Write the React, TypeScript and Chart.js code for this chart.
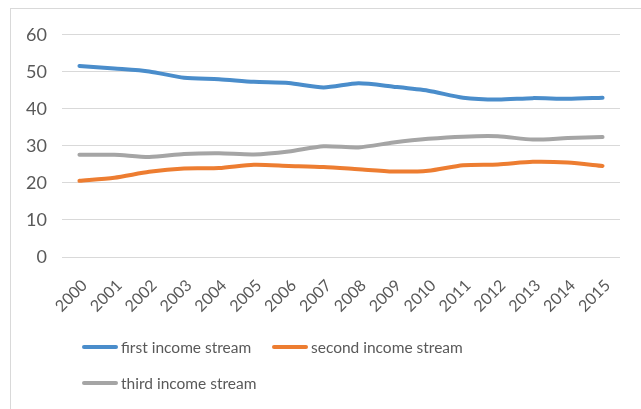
import React, { useEffect, useRef } from "react";
import { Chart, registerables } from "chart.js";

Chart.register(...registerables);

const years = ["2000","2001","2002","2003","2004","2005","2006","2007","2008","2009","2010","2011","2012","2013","2014","2015"];
const firstStream = [51.6, 50.9, 50.1, 48.4, 48.0, 47.3, 47.0, 45.8, 46.9, 46.0, 44.9, 43.0, 42.5, 42.9, 42.7, 43.0];
const secondStream = [20.6, 21.4, 23.0, 23.9, 24.0, 24.9, 24.6, 24.3, 23.7, 23.1, 23.3, 24.8, 25.0, 25.7, 25.5, 24.6];
const thirdStream = [27.6, 27.6, 27.0, 27.8, 28.0, 27.7, 28.5, 29.9, 29.6, 30.9, 31.9, 32.5, 32.6, 31.7, 32.1, 32.4];
const seriesNames = ["first income stream", "second income stream", "third income stream"];
const seriesColors = ["#4a8dcb", "#ed7d31", "#a5a5a5"];
const yTicks = [0, 10, 20, 30, 40, 50, 60];

const FONT = "Lato, 'Open Sans', sans-serif";
const TEXT = "#595959";

export default function App() {
  const ref = useRef<HTMLCanvasElement>(null);
  useEffect(() => {
    if (!ref.current) return;
    const data = [firstStream, secondStream, thirdStream];
    const chart = new Chart(ref.current, {
      type: "line",
      data: {
        labels: years,
        datasets: data.map((d, i) => ({
          label: seriesNames[i],
          data: d,
          borderColor: seriesColors[i],
          backgroundColor: seriesColors[i],
          borderWidth: 4,
          pointRadius: 0,
          tension: 0.25,
          fill: false,
          borderCapStyle: "round" as const,
          borderJoinStyle: "round" as const,
        })),
      },
      options: {
        animation: false,
        responsive: false,
        layout: { padding: { left: 0, right: 21, top: 23, bottom: 0 } },
        plugins: { legend: { display: false }, tooltip: { enabled: false } },
        scales: {
          x: {
            offset: true,
            grid: { display: false, drawTicks: false },
            border: { display: false },
            ticks: {
              color: TEXT,
              font: { family: FONT, size: 16 },
              maxRotation: 45,
              minRotation: 45,
              padding: 19,
              labelOffset: 5,
              autoSkip: false,
            },
            afterFit: (s: any) => { s.height = 82; },
          },
          y: {
            min: 0,
            max: 60,
            afterBuildTicks: (s: any) => { s.ticks = yTicks.map((v) => ({ value: v })); },
            grid: { color: "#d9d9d9", lineWidth: 1, drawTicks: false },
            border: { display: false },
            ticks: {
              color: TEXT,
              font: { family: FONT, size: 18 },
              padding: 15,
            },
            afterFit: (s: any) => { s.width = 52; },
          },
        },
      },
    });
    return () => chart.destroy();
  }, []);

  const legendItems = [
    { i: 0, x: 82, y: 347 },
    { i: 1, x: 272, y: 347 },
    { i: 2, x: 82, y: 383 },
  ];

  return (
    <div>
      <div style={{ position: "fixed", left: 10, top: 8, width: 700, height: 500, border: "1px solid #d9d9d9", boxSizing: "border-box", background: "#fff" }} />
      <canvas ref={ref} width={631} height={330} style={{ position: "fixed", left: 10, top: 9, width: 631, height: 330 }} />
      {legendItems.map((it) => (
        <div key={it.i} style={{ position: "fixed", left: it.x, top: it.y - 12, height: 24, display: "flex", alignItems: "center", fontFamily: FONT, fontSize: 15.5, color: TEXT, whiteSpace: "nowrap" }}>
          <div style={{ width: 36, height: 4, borderRadius: 2, background: seriesColors[it.i], marginRight: 3 }} />
          <span>{seriesNames[it.i]}</span>
        </div>
      ))}
    </div>
  );
}
